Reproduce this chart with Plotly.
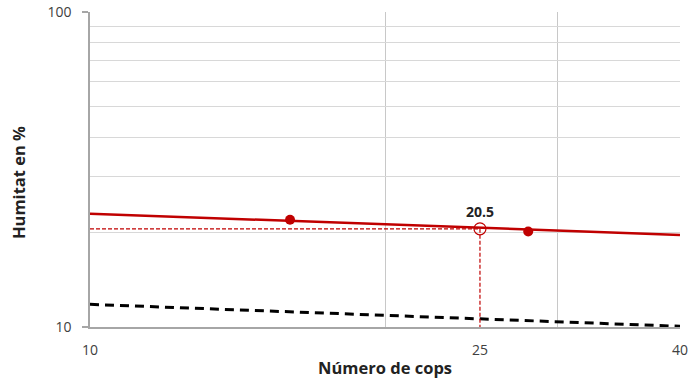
import plotly.graph_objects as go

# Data
point_x = [16.0, 28.0]
point_y = [21.9, 20.1]
trend_x = [10, 40]
trend_y = [22.9, 19.6]
ref_x = [10, 40]
ref_y = [11.8, 10.05]
target_x = 25
target_y = 20.5
target_label = "20.5"
x_ticks = [10, 25, 40]
x_grid = [20, 30, 40]
y_ticks = [10, 100]
y_grid = [20, 30, 40, 50, 60, 70, 80, 90]

RED = "#c00000"
fig = go.Figure()

fig.add_trace(go.Scatter(x=ref_x, y=ref_y, mode="lines",
                         line=dict(color="black", width=3, dash="9px,6px"),
                         showlegend=False, hoverinfo="skip"))
fig.add_trace(go.Scatter(x=[ref_x[0], target_x, target_x], y=[target_y, target_y, 10],
                         mode="lines", line=dict(color=RED, width=1.2, dash="4px,2px"),
                         showlegend=False, hoverinfo="skip"))
fig.add_trace(go.Scatter(x=trend_x, y=trend_y, mode="lines",
                         line=dict(color=RED, width=2.5), showlegend=False))
fig.add_trace(go.Scatter(x=point_x, y=point_y, mode="markers",
                         marker=dict(color=RED, size=10), showlegend=False))
fig.add_trace(go.Scatter(x=[target_x], y=[target_y], mode="markers+text",
                         marker=dict(symbol="circle-open", color=RED, size=12, line=dict(width=1.2)),
                         text=["<b>" + target_label + "</b>"], textposition="top center",
                         textfont=dict(size=14, color="#222222", family="Open Sans"),
                         showlegend=False))

fig.update_layout(
    width=690, height=382,
    margin=dict(l=90, r=10, t=12, b=55),
    paper_bgcolor="white", plot_bgcolor="white",
    font=dict(family="Open Sans", size=13, color="#404040"),
    xaxis=dict(type="log", range=[1, 1.60206], tickvals=x_ticks, ticktext=[str(v) for v in x_ticks],
               showgrid=False, ticks="", showline=True, linecolor="#a6a6a6", linewidth=1.5,
               automargin=False, ticklabelstandoff=9, ticklabeloverflow="allow",
               minor=dict(tickvals=x_grid, showgrid=True, gridcolor="#c8c8c8", gridwidth=1, ticks=""),
               zeroline=False, tickfont=dict(size=14, color="#404040")),
    yaxis=dict(type="log", range=[1, 2], tickvals=y_ticks, ticktext=[str(v) for v in y_ticks],
               showgrid=True, gridcolor="#d0d0d0", gridwidth=1,
               ticks="outside", ticklen=6, tickcolor="#a6a6a6", tickwidth=1.5,
               showline=True, linecolor="#a6a6a6", linewidth=1.5,
               automargin=False, ticklabelstandoff=8, ticklabeloverflow="allow",
               minor=dict(tickvals=y_grid, showgrid=True, gridcolor="#d8d8d8", gridwidth=1, ticks=""),
               zeroline=False, tickfont=dict(size=14, color="#404040")),
    annotations=[
        dict(text="<b>Número de cops</b>", xref="paper", yref="paper", x=0.5, y=-0.13,
             xanchor="center", yanchor="middle", showarrow=False,
             font=dict(size=16.5, color="#222222", family="Open Sans")),
        dict(text="<b>Humitat en %</b>", xref="paper", yref="paper", x=-0.122, y=0.457,
             xanchor="center", yanchor="middle", showarrow=False, textangle=-90,
             font=dict(size=16.5, color="#222222", family="Open Sans")),
    ],
)

fig.write_html("out.html", config={"displayModeBar": False},
               post_script="document.body.style.margin='0';")
